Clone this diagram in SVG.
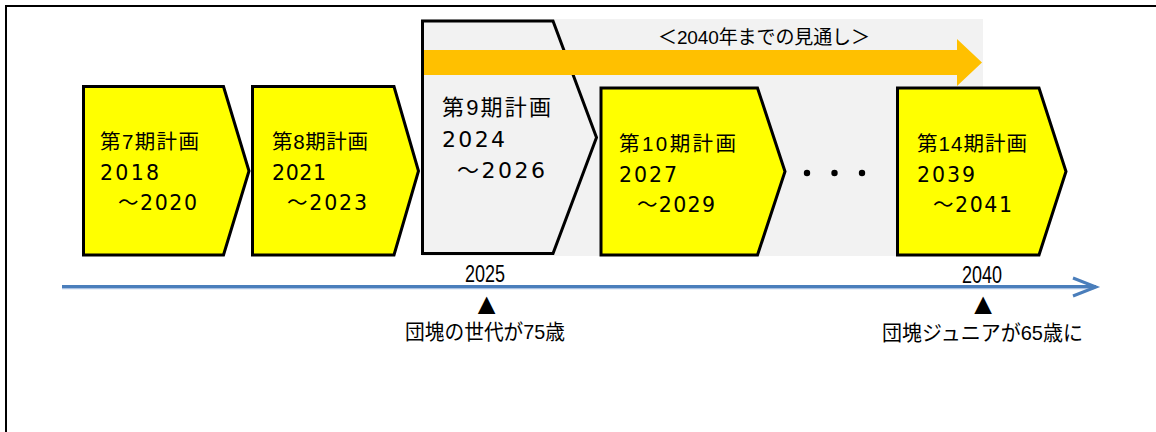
<svg xmlns="http://www.w3.org/2000/svg" width="1156" height="432" viewBox="0 0 1156 432">
<style>
.box{stroke:#000;stroke-width:3;stroke-linejoin:miter}
.y{fill:#ffff00}
.g{fill:#f2f2f2}
.lbl{font-family:"Liberation Sans","Noto Sans CJK JP",sans-serif;font-size:20.5px;fill:#000}
.num{font-family:"DejaVu Sans","Noto Sans CJK JP",sans-serif;font-size:20.5px;fill:#000}
.tl{font-family:"Liberation Sans","Noto Sans CJK JP",sans-serif;font-size:21px;fill:#000}
</style>
<rect x="0" y="0" width="1156" height="432" fill="#fff"/>
<path d="M6,432 V6 H1156" fill="none" stroke="#000" stroke-width="2"/>
<rect id="outlook-bg" x="422" y="19" width="561" height="237" fill="#f2f2f2"/>
<g id="plan7">
<polygon class="box y" points="83.5,86.5 223.5,86.5 249,171 223.5,255 83.5,255"/>
<text class="lbl" x="100" y="149" textLength="99">第7期計画</text>
<text class="num" x="100" y="180" textLength="59">2018</text>
<text class="num" x="118" y="210" textLength="79">～2020</text>
</g>
<g id="plan8">
<polygon class="box y" points="252.5,86.5 394,86.5 418.5,171 394,255 252.5,255"/>
<text class="lbl" x="272" y="149" textLength="96">第8期計画</text>
<text class="num" x="272" y="180" textLength="54">2021</text>
<text class="num" x="287" y="210" textLength="80">～2023</text>
</g>
<g id="plan9">
<polygon class="box g" points="422.5,21 553,21 596.5,137.5 553,253.5 422.5,253.5"/>
<text class="lbl" x="442" y="115" textLength="109" style="font-size:22px">第9期計画</text>
<text class="num" x="442" y="147" textLength="63" style="font-size:22px">2024</text>
<text class="num" x="457" y="178" textLength="88" style="font-size:22px">～2026</text>
</g>
<g id="outlook-arrow">
<polygon points="424,50 957,50 957,39 982,62.5 957,86 957,75 424,75" fill="#ffc000"/>
<text class="tl" x="658" y="44" textLength="212" style="font-size:19px">＜2040年までの見通し＞</text>
</g>
<g id="plan10">
<polygon class="box y" points="601,88 757.5,88 785,171.5 757.5,255 601,255"/>
<text class="lbl" x="619" y="151" textLength="117">第10期計画</text>
<text class="num" x="619" y="181.5" textLength="58">2027</text>
<text class="num" x="637" y="211.5" textLength="78">～2029</text>
</g>
<g id="ellipsis">
<circle cx="807" cy="173" r="3.2" fill="#000"/>
<circle cx="834.5" cy="173" r="3.2" fill="#000"/>
<circle cx="862" cy="173" r="3.2" fill="#000"/>
</g>
<g id="plan14">
<polygon class="box y" points="897.5,88 1039,88 1066,171.5 1039,255 897.5,255"/>
<text class="lbl" x="917" y="151" textLength="110">第14期計画</text>
<text class="num" x="917" y="181.5" textLength="58">2039</text>
<text class="num" x="933" y="211.5" textLength="79">～2041</text>
</g>
<g id="connectors">
<line x1="62" y1="288.5" x2="1094" y2="288.5" stroke="#a9c1e3" stroke-width="1.5"/>
<line x1="62" y1="286.5" x2="1096" y2="286.5" stroke="#4a7ebb" stroke-width="3"/>
<polyline points="1073,278 1096,287 1073,296" fill="none" stroke="#4a7ebb" stroke-width="3" stroke-linejoin="miter"/>
</g>
<g id="milestone2025">
<text class="tl" x="465" y="282" textLength="40" lengthAdjust="spacingAndGlyphs" style="font-size:23px">2025</text>
<text class="tl" x="486.5" y="314" text-anchor="middle" style="font-size:30px">▲</text>
<text class="tl" x="405" y="339" textLength="160" lengthAdjust="spacingAndGlyphs">団塊の世代が75歳</text>
</g>
<g id="milestone2040">
<text class="tl" x="962" y="283" textLength="40" lengthAdjust="spacingAndGlyphs" style="font-size:23px">2040</text>
<text class="tl" x="983" y="314" text-anchor="middle" style="font-size:30px">▲</text>
<text class="tl" x="882" y="340" textLength="201" lengthAdjust="spacingAndGlyphs">団塊ジュニアが65歳に</text>
</g>
</svg>
